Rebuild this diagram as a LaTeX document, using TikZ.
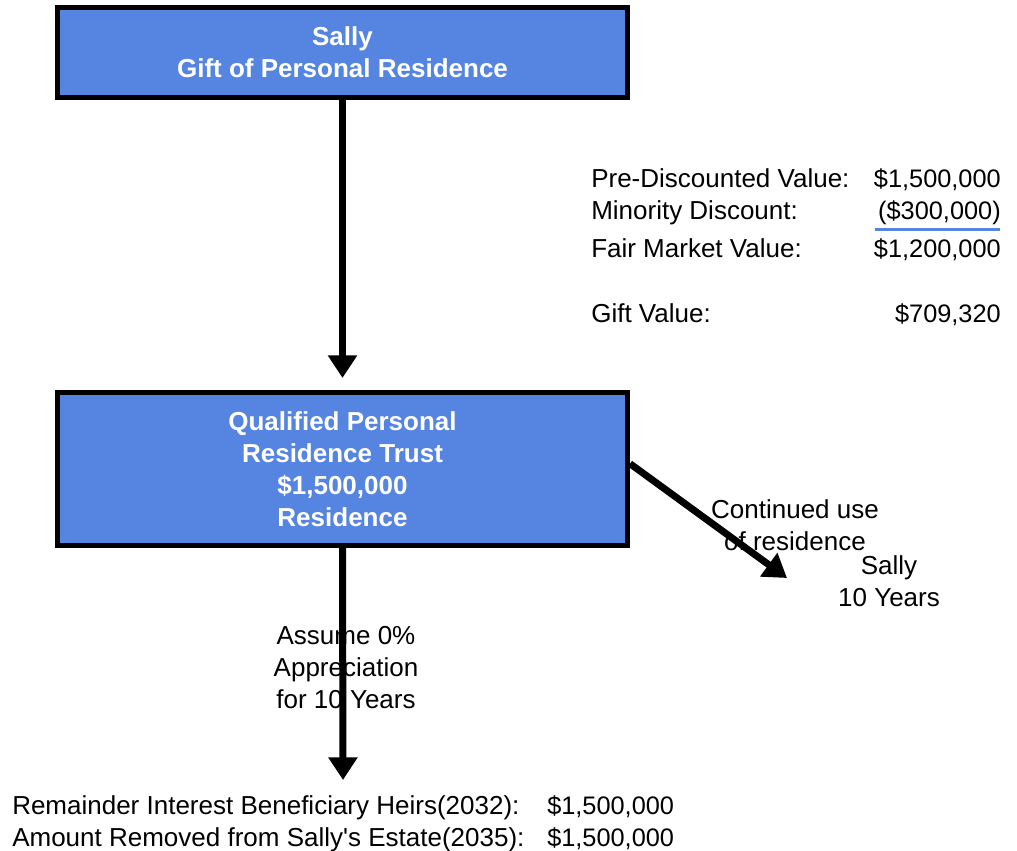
\documentclass[tikz,border=0pt]{standalone}
\usepackage{fontspec}
\setmainfont{Liberation Sans}
\usetikzlibrary{arrows.meta}
\definecolor{boxblue}{RGB}{85,133,224}
\begin{document}
\begin{tikzpicture}[x=0.75pt,y=-0.75pt,
  box/.style={draw=black, line width=3.75pt, fill=boxblue, text=white,
    font=\fontsize{19.5}{24}\selectfont\bfseries, align=center, inner sep=0pt},
  flow/.style={line width=5.25pt, -{Triangle[length=17pt,width=21pt]}},
  txt/.style={font=\fontsize{19.5}{24}\selectfont, inner sep=0pt, align=center},
  num/.style={font=\fontsize{19}{24}\selectfont, inner sep=0pt},
  rule/.style={draw=boxblue, line width=2.25pt}]
\useasboundingbox (0,0) rectangle (1017,850);

% the two boxes
\node[box, minimum width=427.5pt, minimum height=67.5pt] (gift) at (342.5,52.5)
  {Sally\\Gift of Personal Residence};
\node[box, minimum width=427.5pt, minimum height=114.75pt] (qprt) at (342.5,469)
  {Qualified Personal\\Residence Trust\\\$1,500,000\\Residence};

% free ends of the lower connectors
\coordinate (heirs) at (343,780);
\coordinate (occupy) at (787,578);

% labels that sit under the connectors
\node[txt] (apprec) at (346,668) {Assume 0\%\\Appreciation\\for 10 Years};
\node[txt] (useres) at (795,525) {Continued use\\of residence};
\node[txt] (sally) at (889,581.5) {Sally\\10 Years};

% connectors
\draw[flow, shorten >=9pt] (gift.south) -- (qprt.north);
\draw[flow] (qprt.south) -- (heirs);
\draw[flow] ([yshift=4pt]qprt.east) -- (occupy);

% valuation table
\node[txt, anchor=base west] (l1) at (591,187) {Pre-Discounted Value:};
\node[txt, anchor=base west] (l2) at (591,219) {Minority Discount:};
\node[txt, anchor=base west] (l3) at (591,257) {Fair Market Value:};
\node[txt, anchor=base west] (l4) at (591,322) {Gift Value:};
\node[num, anchor=base east] (v1) at (1001,187) {\$1,500,000};
\node[num, anchor=base east] (v2) at (1001,219) {(\$300,000)};
\node[num, anchor=base east] (v3) at (1001,257) {\$1,200,000};
\node[num, anchor=base east] (v4) at (1001,322) {\$709,320};
\coordinate (ulA) at (875,229);
\coordinate (ulB) at (1000,229);
\draw[rule] (ulA) -- (ulB);

% results at the foot
\node[txt, anchor=base west] (r1) at (12,814) {Remainder Interest Beneficiary Heirs(2032):};
\node[txt, anchor=base west] (r2) at (12,846) {Amount Removed from Sally\textquotesingle s Estate(2035):};
\node[num, anchor=base west] (s1) at (547,814) {\$1,500,000};
\node[num, anchor=base west] (s2) at (547,846) {\$1,500,000};
\end{tikzpicture}
\end{document}
